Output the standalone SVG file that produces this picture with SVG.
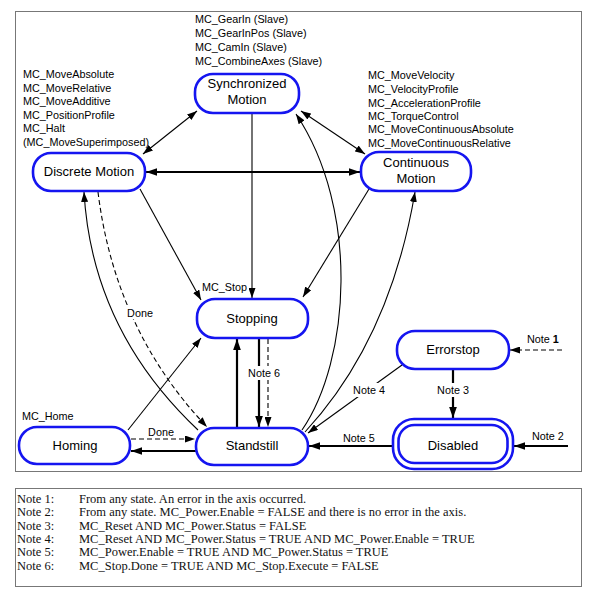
<svg xmlns="http://www.w3.org/2000/svg" width="599" height="599" viewBox="0 0 599 599">
<defs>
<style>
.node{fill:#fff;stroke:#1515f0;stroke-width:2.6}
.nl{font-family:"Liberation Sans",Arial,sans-serif;font-size:13px;fill:#000;text-anchor:middle}
.ann{font-family:"Liberation Sans",Arial,sans-serif;font-size:10.8px;fill:#000}
.lbl{font-family:"Liberation Sans",Arial,sans-serif;font-size:10.8px;fill:#000;text-anchor:middle}
.note{font-family:"Liberation Serif","Times New Roman",serif;font-size:12.5px;fill:#111}
.c{fill:none;stroke:#000;stroke-width:1.1}
.b{fill:none;stroke:#000;stroke-width:2.2}
.d{stroke-dasharray:5,3}
.bg{fill:#fff}
</style>
<marker id="a" viewBox="0 0 10 7" refX="10" refY="3.5" markerWidth="10" markerHeight="7" markerUnits="userSpaceOnUse" orient="auto-start-reverse"><path d="M0,0 L10,3.5 L0,7 z" fill="#000"/></marker>
<marker id="ab" viewBox="0 0 10 7" refX="10" refY="3.5" markerWidth="11" markerHeight="8" markerUnits="userSpaceOnUse" orient="auto-start-reverse"><path d="M0,0 L10,3.5 L0,7 z" fill="#000"/></marker>
</defs>
<rect x="0" y="0" width="599" height="599" fill="#fff"/>
<rect x="15.5" y="11.5" width="566" height="460" fill="none" stroke="#777" stroke-width="1"/>

<g id="annotations">
<text class="ann" x="195" y="23">MC_GearIn (Slave)</text>
<text class="ann" x="195" y="37">MC_GearInPos (Slave)</text>
<text class="ann" x="195" y="51">MC_CamIn (Slave)</text>
<text class="ann" x="195" y="65">MC_CombineAxes (Slave)</text>
<text class="ann" x="23" y="78">MC_MoveAbsolute</text>
<text class="ann" x="23" y="92">MC_MoveRelative</text>
<text class="ann" x="23" y="105">MC_MoveAdditive</text>
<text class="ann" x="23" y="119">MC_PositionProfile</text>
<text class="ann" x="23" y="132">MC_Halt</text>
<text class="ann" x="23" y="146">(MC_MoveSuperimposed)</text>
<text class="ann" x="368" y="79">MC_MoveVelocity</text>
<text class="ann" x="368" y="93">MC_VelocityProfile</text>
<text class="ann" x="368" y="107">MC_AccelerationProfile</text>
<text class="ann" x="368" y="120">MC_TorqueControl</text>
<text class="ann" x="368" y="133">MC_MoveContinuousAbsolute</text>
<text class="ann" x="368" y="147">MC_MoveContinuousRelative</text>
<text class="ann" x="202" y="291">MC_Stop</text>
<text class="ann" x="22" y="420">MC_Home</text>
</g>

<g id="connectors">
<line class="c" x1="143" y1="154" x2="197" y2="111" marker-start="url(#a)" marker-end="url(#a)"/>
<line class="c" x1="301" y1="111" x2="365" y2="154" marker-start="url(#a)" marker-end="url(#a)"/>
<line class="b" x1="146" y1="172" x2="360" y2="172" marker-start="url(#ab)" marker-end="url(#ab)"/>
<line class="c" x1="252" y1="113" x2="252" y2="298" marker-end="url(#a)"/>
<line class="c" x1="140" y1="189" x2="201" y2="300" marker-end="url(#a)"/>
<line class="c" x1="369" y1="189" x2="303" y2="297" marker-end="url(#a)"/>
<path class="c" d="M302,430 C350,360 360,210 296,114" marker-end="url(#a)"/>
<path class="c" d="M305,432 Q390,340 415,192" marker-end="url(#a)"/>
<path class="c" d="M198,430 Q92,330 84,192" marker-end="url(#a)"/>
<path class="c d" d="M98,192 Q115,330 207,427" marker-end="url(#a)"/>
<line class="c" x1="128" y1="430" x2="201" y2="338" marker-end="url(#a)"/>
<line class="c d" x1="131" y1="439" x2="195" y2="439" marker-end="url(#a)"/>
<line class="b" x1="196" y1="451" x2="131" y2="451" marker-end="url(#ab)"/>
<line class="b" x1="237" y1="428" x2="237" y2="339" marker-end="url(#ab)"/>
<line class="b" x1="259" y1="339" x2="259" y2="427" marker-end="url(#ab)"/>
<line class="c d" x1="268" y1="339" x2="268" y2="427" marker-end="url(#a)"/>
<line class="b" x1="453" y1="369" x2="453" y2="418" marker-end="url(#ab)"/>
<line class="c d" x1="562" y1="350" x2="510" y2="350" marker-end="url(#a)"/>
<line class="b" x1="568" y1="446" x2="514" y2="446" marker-end="url(#ab)"/>
<line class="b" x1="393" y1="446" x2="309" y2="446" marker-end="url(#ab)"/>
<line class="c" x1="402" y1="365" x2="308" y2="433" marker-end="url(#a)"/>
<rect class="bg" x="125" y="305" width="30" height="14"/>
<text class="lbl" x="140" y="317">Done</text>
<text class="lbl" x="161" y="436">Done</text>
<rect class="bg" x="246" y="366" width="36" height="14"/>
<text class="lbl" x="264" y="377">Note 6</text>
<rect class="bg" x="351" y="383" width="37" height="14"/>
<text class="lbl" x="369" y="394">Note 4</text>
<rect class="bg" x="435" y="383" width="36" height="14"/>
<text class="lbl" x="453" y="394">Note 3</text>
<text class="ann" x="527" y="343">Note <tspan font-weight="bold">1</tspan></text>
<text class="ann" x="532" y="440">Note 2</text>
<text class="ann" x="343" y="442">Note 5</text>
</g>

<g id="synchronized">
<rect class="node" x="195" y="74" width="104" height="39" rx="18"/>
<text class="nl" x="247" y="88">Synchronized</text>
<text class="nl" x="247" y="104">Motion</text>
</g>
<g id="discrete">
<rect class="node" x="33" y="153" width="112" height="38" rx="18"/>
<text class="nl" x="89" y="176">Discrete Motion</text>
</g>
<g id="continuous">
<rect class="node" x="361" y="152" width="110" height="39" rx="18"/>
<text class="nl" x="416" y="167">Continuous</text>
<text class="nl" x="416" y="183">Motion</text>
</g>
<g id="stopping">
<rect class="node" x="197" y="299" width="111" height="39" rx="18"/>
<text class="nl" x="252" y="323">Stopping</text>
</g>
<g id="errorstop">
<rect class="node" x="397" y="331" width="112" height="38" rx="18"/>
<text class="nl" x="453" y="354">Errorstop</text>
</g>
<g id="homing">
<rect class="node" x="19" y="427" width="111" height="37" rx="18"/>
<text class="nl" x="75" y="450">Homing</text>
</g>
<g id="standstill">
<rect class="node" x="196" y="428" width="112" height="37" rx="18"/>
<text class="nl" x="252" y="450">Standstill</text>
</g>
<g id="disabled">
<rect class="node" x="393" y="419" width="120" height="50" rx="21"/>
<rect class="node" x="398.5" y="425" width="109" height="38" rx="16"/>
<text class="nl" x="453" y="450">Disabled</text>
</g>

<g id="notes">
<rect x="15.5" y="488.5" width="566" height="98" fill="none" stroke="#777" stroke-width="1"/>
<text class="note" x="17" y="503">Note 1:</text>
<text class="note" x="79" y="503">From any state. An error in the axis occurred.</text>
<text class="note" x="17" y="516">Note 2:</text>
<text class="note" x="79" y="516">From any state. MC_Power.Enable = FALSE and there is no error in the axis.</text>
<text class="note" x="17" y="530">Note 3:</text>
<text class="note" x="79" y="530">MC_Reset AND MC_Power.Status = FALSE</text>
<text class="note" x="17" y="543">Note 4:</text>
<text class="note" x="79" y="543">MC_Reset AND MC_Power.Status = TRUE AND MC_Power.Enable = TRUE</text>
<text class="note" x="17" y="556">Note 5:</text>
<text class="note" x="79" y="556">MC_Power.Enable = TRUE AND MC_Power.Status = TRUE</text>
<text class="note" x="17" y="570">Note 6:</text>
<text class="note" x="79" y="570">MC_Stop.Done = TRUE AND MC_Stop.Execute = FALSE</text>
</g>
</svg>
